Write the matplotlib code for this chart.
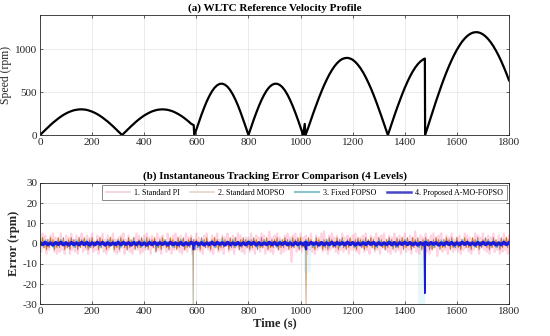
import numpy as np
import matplotlib
matplotlib.use("Agg")
import matplotlib.pyplot as plt
from matplotlib.lines import Line2D

# ---------------- data ----------------
# (a) reference speed profile (rpm)
speed_t = [0, 10, 20, 30, 40, 50, 60, 70, 80, 90, 100, 110, 120, 130, 140, 150, 160, 170, 180, 190,
           200, 210, 220, 230, 240, 250, 260, 270, 280, 290, 300, 310, 315,
           320, 330, 340, 350, 360, 370, 380, 390, 400, 410, 420, 430, 440, 450, 460, 470, 480, 490,
           500, 510, 520, 530, 540, 550, 560, 570, 580, 590, 592,
           600, 610, 620, 630, 640, 650, 660, 670, 680, 690, 700, 710, 720, 730, 740, 750, 760, 770,
           780, 790, 800,
           810, 820, 830, 840, 850, 860, 870, 880, 890, 900, 910, 920, 930, 940, 950, 960, 970, 980,
           990, 1000, 1010, 1016, 1019,
           1030, 1040, 1050, 1060, 1070, 1080, 1090, 1100, 1110, 1120, 1130, 1140, 1150, 1160, 1170,
           1180, 1190, 1200, 1210, 1220, 1230, 1240, 1250, 1260, 1270, 1280, 1290, 1300, 1310, 1320,
           1330, 1335,
           1340, 1350, 1360, 1370, 1380, 1390, 1400, 1410, 1420, 1430, 1440, 1450, 1460, 1470, 1477, 1478,
           1480, 1490, 1500, 1510, 1520, 1530, 1540, 1550, 1560, 1570, 1580, 1590, 1600, 1610, 1620,
           1630, 1640, 1650, 1660, 1670, 1680, 1690, 1700, 1710, 1720, 1730, 1740, 1750, 1760, 1770,
           1780, 1790, 1800]
speed_v = [0, 30, 59, 88, 117, 144, 169, 193, 215, 235, 252, 267, 279, 289, 295, 299, 300, 298, 293, 284,
           273, 260, 244, 225, 204, 181, 157, 130, 103, 74, 45, 15, 0,
           15, 45, 75, 104, 132, 159, 184, 207, 228, 246, 262, 276, 286, 294, 298, 300, 298, 294,
           286, 276, 262, 246, 228, 207, 184, 159, 132, 115, 0,
           64, 153, 239, 319, 393, 456, 510, 552, 581, 597, 599, 587, 562, 524, 474, 413, 343, 264,
           179, 91, 0,
           89, 177, 260, 338, 408, 469, 520, 559, 585, 598, 598, 585, 559, 520, 469, 408, 338, 260,
           177, 89, 0, 130, 0,
           90, 178, 266, 349, 430, 507, 579, 644, 704, 756, 801, 838, 867, 887, 897,
           900, 893, 878, 853, 820, 779, 731, 675, 612, 544, 470, 391, 308, 222, 134,
           45, 0,
           46, 136, 226, 313, 396, 476, 551, 620, 683, 739, 787, 827, 858, 881, 892, 0,
           19, 115, 210, 304, 396, 486, 572, 655, 733, 807, 875, 938, 995, 1045, 1090,
           1126, 1156, 1178, 1193, 1199, 1199, 1190, 1174, 1150, 1119, 1081, 1036, 984, 926, 862,
           792, 718, 638]

# (b) tracking errors (rpm); PI / MOPSO sampled every 5 s, FOPSO / proposed every 10 s
err_pi = [3, -4, 5, -2, 4, -5, 2, -3, 4, -1, 5, -4, 3, -5, 2, -4, 5, -3, 1, -5,
          4, -2, 3, -5, 5, -3, 2, -4, 4, -5, 3, -1, 5, -4, 2, -3, 4, -5, 3, -2,
          5, -4, 1, -3, 4, -5, 3, -2, 5, -4, 2, -5, 4, -3, 3, -1, 5, -4, 2, -5,
          3, -4, 4, -2, 5, -5, 2, -3, 4, -4, 1, -5, 3, -2, 5, -3, 4, -5, 2, -4,
          4, -3, 5, -1, 3, -5, 4, -2, 2, -4, 5, -3, 3, -5, 4, -2, 1, -4, 5, -3,
          2, -5, 4, -3, 5, -2, 3, -4, 4, -5, 2, -3, 5, -4, 3, -1, 4, -5, 2, -3,
          5, -3, 3, -4, 2, -5, 4, -2, 5, -3, 1, -4, 4, -5, 3, -2, 5, -4, 2, -3,
          4, -5, 3, -1, 5, -4, 2, -3, 4, -5, 3, -2, 5, -3, 4, -4, 2, -5, 3, -2,
          3, -4, 5, -3, 2, -5, 4, -1, 3, -4, 5, -2, 4, -5, 2, -3, 6, -4, 3, -5,
          4, -2, 5, -3, 3, -5, 2, -4, 4, -3, 5, -1, 3, -9, 4, -2, 5, -4, 2, -3,
          5, -4, 3, -2, 4, -5, 2, -3, 5, -4, 1, -5, 4, -3, 3, -2, 5, -4, 6, -3,
          2, -5, 4, -3, 5, -2, 3, -4, 4, -5, 2, -3, 5, -4, 3, -1, 4, -5, 2, -3,
          4, -3, 5, -4, 2, -5, 3, -2, 4, -4, 5, -3, 1, -5, 4, -2, 3, -4, 5, -3,
          3, -5, 4, -2, 5, -3, 2, -4, 4, -5, 3, -1, 5, -4, 2, -3, 4, -5, 3, -2,
          5, -4, 2, -3, 4, -5, 3, -2, 6, -4, 1, -5, 4, -3, 3, -2, 5, -4, 2, -5,
          4, -3, 5, -2, 3, -6, 4, -1, 5, -4, 2, -3, 4, -5, 3, -2, 5, -4, 2, -3,
          3, -4, 4, -5, 2, -3, 5, -2, 4, -4, 3, -5, 2, -3, 5, -1, 4, -5, 3, -2,
          5, -3, 2, -4, 4, -5, 3, -2, 5, -4, 1, -3, 4, -5, 2, -4, 5, -3, 3, -5,
          4]
err_mopso = [2, -1, 3, -2, 1, -3, 2, -2, 3, -1, 2, -3, 1, -2, 3, -2, 2, -1, 3, -3,
             1, -2, 2, -3, 3, -1, 2, -2, 1, -3, 3, -2, 2, -1, 3, -2, 1, -3, 2, -2,
             3, -2, 1, -1, 2, -3, 3, -2, 2, -1, 1, -3, 2, -2, 3, -1, 2, -3, 1, -2,
             2, -3, 3, -1, 2, -2, 1, -3, 3, -2, 2, -1, 3, -3, 1, -2, 2, -2, 3, -1,
             1, -2, 3, -3, 2, -1, 2, -2, 3, -4, 1, -2, 2, -3, 3, -1, 2, -2, 1, -3,
             3, -1, 2, -2, 1, -3, 3, -2, 2, -1, 3, -3, 1, -2, 2, -2, 3, -1, 2, -3,
             2, -2, 1, -3, 3, -1, 2, -2, 3, -2, 1, -3, 2, -1, 3, -2, 2, -3, 1, -2,
             3, -2, 2, -1, 1, -3, 3, -2, 2, -2, 3, -1, 1, -3, 2, -2, 3, -1, 2, -2,
             1, -3, 2, -2, 3, -1, 2, -3, 1, -2, 3, -2, 2, -1, 3, -3, 1, -2, 2, -2,
             2, -1, 3, -3, 1, -2, 2, -2, 3, -1, 2, -3, 1, -2, 3, -2, 2, -1, 3, -3,
             3, -2, 1, -2, 2, -3, 3, -1, 2, -2, 1, -3, 3, -2, 2, -1, 1, -3, 2, -2,
             2, -3, 3, -1, 2, -2, 1, -2, 3, -3, 2, -1, 3, -2, 1, -3, 2, -2, 3, -1,
             1, -2, 2, -3, 3, -1, 2, -2, 1, -3, 3, -2, 2, -1, 3, -2, 2, -3, 1, -2,
             3, -1, 2, -2, 1, -3, 2, -2, 3, -1, 2, -3, 1, -2, 3, -2, 2, -1, 3, -3,
             2, -2, 3, -1, 1, -3, 3, -2, 2, -1, 3, -2, 1, -3, 2, -2, 3, -1, 2, -3,
             1, -3, 2, -2, 3, -1, 2, -3, 1, -2, 2, -2, 3, -1, 2, -3, 3, -2, 1, -2,
             3, -2, 1, -3, 2, -1, 3, -2, 2, -2, 1, -3, 3, -1, 2, -2, 3, -3, 1, -2,
             2, -1, 3, -2, 2, -3, 1, -2, 3, -1, 2, -2, 1, -3, 3, -2, 2, -1, 3, -2,
             2]
err_fopso = [1, -1, 2, -1, 1, -2, 1, -1, 2, -1, 1, -1, 1, -2, 2, -1, 1, -1, 2, -2,
             1, -1, 1, -2, 1, -1, 2, -1, 1, -1, 2, -2, 1, -1, 1, -1, 2, -1, 1, -2,
             2, -1, 1, -1, 1, -2, 1, -1, 2, -1, 1, -2, 1, -1, 2, -1, 1, -1, 1, -2,
             1, -2, 2, -1, 1, -1, 1, -2, 1, -1, 2, -1, 1, -1, 2, -2, 1, -1, 1, -1,
             2, -1, 1, -2, 1, -1, 2, -1, 1, -1, 1, -2, 2, -1, 1, -1, 2, -1, 1, -2,
             1, -1, 2, -1, 1, -2, 1, -1, 1, -1, 2, -2, 1, -1, 1, -2, 2, -1, 1, -1,
             1, -2, 1, -1, 2, -1, 1, -1, 1, -2, 2, -1, 1, -1, 2, -1, 1, -2, 1, -1,
             2, -1, 1, -1, 1, -2, 1, -1, 2, -1, 1, -2, 1, -1, 2, -1, 1, -1, 2, -2,
             1, -1, 2, -1, 1, -1, 1, -2, 2, -1, 1, -1, 2, -1, 1, -2, 1, -1, 1, -1,
             1]
err_prop = [0.5, -0.4, 0.6, -0.5, 0.3, -0.6, 0.5, -0.3, 0.6, -0.5, 0.4, -0.6, 0.5, -0.4, 0.3, -0.5, 0.6, -0.4, 0.5, -0.6,
            0.4, -0.5, 0.6, -0.3, 0.5, -0.6, 0.4, -0.5, 0.3, -0.4, 0.6, -0.5, 0.5, -0.3, 0.4, -0.6, 0.5, -0.4, 0.6, -0.5,
            0.3, -0.6, 0.5, -0.4, 0.6, -0.5, 0.4, -0.3, 0.5, -0.6, 0.6, -0.4, 0.3, -0.5, 0.5, -0.6, 0.4, -0.4, 0.6, -0.3,
            0.5, -0.5, 0.4, -0.6, 0.3, -0.4, 0.6, -0.5, 0.5, -0.3, 0.4, -0.6, 0.6, -0.5, 0.3, -0.4, 0.5, -0.6, 0.4, -0.5,
            0.6, -0.3, 0.5, -0.6, 0.4, -0.5, 0.3, -0.4, 0.6, -0.5, 0.5, -0.6, 0.4, -0.3, 0.6, -0.5, 0.3, -0.6, 0.5, -0.4,
            0.4, -0.5, 0.6, -0.4, 0.5, -0.3, 0.4, -0.6, 0.5, -0.5, 0.3, -0.4, 0.6, -0.6, 0.5, -0.3, 0.4, -0.5, 0.6, -0.4,
            0.5, -0.6, 0.3, -0.5, 0.4, -0.4, 0.6, -0.3, 0.5, -0.6, 0.4, -0.5, 0.3, -0.4, 0.6, -0.5, 0.5, -0.6, 0.4, -0.3,
            0.6, -0.4, 0.5, -0.5, 0.3, -0.6, 0.4, -0.4, 0.6, -0.5, 0.5, -0.3, 0.4, -0.6, 0.3, -0.5, 0.6, -0.4, 0.5, -0.6,
            0.4, -0.5, 0.6, -0.3, 0.5, -0.4, 0.3, -0.6, 0.5, -0.5, 0.6, -0.4, 0.4, -0.3, 0.5, -0.6, 0.3, -0.5, 0.6, -0.4,
            0.5]

# transient events in the error traces (time s, error rpm)
mopso_ev_t = [[586, 588, 590], [1018, 1021, 1024]]
mopso_ev_v = [[-1, -32, 1], [-1, -32, 1]]
fopso_ev_t = [[585, 587, 589],
              [1015, 1016, 1017, 1018, 1019, 1020, 1021, 1022, 1023, 1024, 1025, 1026, 1027, 1028,
               1029, 1030, 1031, 1032, 1033, 1034, 1035, 1036, 1037, 1038],
              [1453, 1454, 1455, 1456, 1457, 1458, 1459, 1460, 1461, 1462, 1463, 1464, 1465, 1466,
               1467, 1468, 1469, 1470, 1471, 1472, 1473, 1474, 1475, 1476, 1477]]
fopso_ev_v = [[-1, -32, 1],
              [0, -14, 0, -14, 0, -14, 0, -14, 0, -14, 0, -14, 0, -14, 0, -14, 0, -14, 0, -14,
               0, -14, 0, -14],
              [0, -32, 0, -32, 0, -32, 0, -32, 0, -32, 0, -32, 0, -32, 0, -32, 0, -32, 0, -32,
               0, -32, 0, -32, 0]]
prop_ev_t = [[586, 589, 592], [1017, 1020, 1023], [1475, 1477, 1479]]
prop_ev_v = [[0, -3, 0], [0, -3, 0], [0, -24.5, 0]]

legend_labels = ["1. Standard PI", "2. Standard MOPSO", "3. Fixed FOPSO", "4. Proposed A-MO-FOPSO"]
x_ticks = [0, 200, 400, 600, 800, 1000, 1200, 1400, 1600, 1800]

# ---------------- style ----------------
plt.rcParams['font.family'] = ['Liberation Serif', 'DejaVu Serif']
plt.rcParams['axes.unicode_minus'] = False
AX_COL = '#262626'
GRID_COL = '#e3e3e3'

fig = plt.figure(figsize=(5.5, 3.36), dpi=100)
ax1 = fig.add_axes([0.0727, 0.598, 0.8528, 0.3574])
ax2 = fig.add_axes([0.0727, 0.0943, 0.8528, 0.3611])


def style(ax):
    for s in ax.spines.values():
        s.set_color(AX_COL)
        s.set_linewidth(0.6)
    ax.tick_params(direction='in', length=2.5, width=0.5, colors=AX_COL, labelsize=8,
                   top=True, right=True, pad=2)
    ax.grid(True, color=GRID_COL, linewidth=0.5)
    ax.set_axisbelow(True)


# (a)
ax1.plot(speed_t, speed_v, color='black', lw=1.6)
ax1.set_xlim(0, 1800)
ax1.set_ylim(0, 1400)
ax1.set_xticks(x_ticks)
ax1.set_yticks([0, 500, 1000])
ax1.set_ylabel('Speed (rpm)', fontsize=8.5, color=AX_COL, labelpad=2)
ax1.set_title('(a) WLTC Reference Velocity Profile', fontsize=8, fontweight='bold', pad=3)
style(ax1)

# (b)
t5 = np.arange(0, 1801, 5)
t10 = np.arange(0, 1801, 10)
c_pi = (1.0, 0.30, 0.55)
c_mo = (0.66, 0.38, 0.10)
c_fo = (0.30, 0.75, 0.85)
c_pr = (0.10, 0.10, 0.85)
ax2.plot(t5, err_pi, color=c_pi, lw=1.6, alpha=0.25)
ax2.plot(t5, err_mopso, color=c_mo, lw=0.7, alpha=0.8)
for tt, vv in zip(mopso_ev_t, mopso_ev_v):
    ax2.plot(tt, vv, color=c_mo, lw=0.6, alpha=0.55)
ax2.plot(t10, err_fopso, color=c_fo, lw=0.8, alpha=0.7)
for tt, vv in zip(fopso_ev_t, fopso_ev_v):
    ax2.plot(tt, vv, color=c_fo, lw=0.6, alpha=0.12)
ax2.plot(t10, err_prop, color=c_pr, lw=2.5)
for tt, vv in zip(prop_ev_t, prop_ev_v):
    ax2.plot(tt, vv, color=c_pr, lw=1.2)

ax2.set_xlim(0, 1800)
ax2.set_ylim(-30, 30)
ax2.set_xticks(x_ticks)
ax2.set_yticks([-30, -20, -10, 0, 10, 20, 30])
ax2.set_ylabel('Error (rpm)', fontsize=9, fontweight='bold', color=AX_COL, labelpad=2)
ax2.set_xlabel('Time (s)', fontsize=9, fontweight='bold', color=AX_COL, labelpad=1)
ax2.set_title('(b) Instantaneous Tracking Error Comparison (4 Levels)', fontsize=7.8,
              fontweight='bold', pad=3)
style(ax2)

handles = [Line2D([], [], color='#f2d2d6', lw=1.2),
           Line2D([], [], color='#e8d3c6', lw=1.2),
           Line2D([], [], color='#8cc4ce', lw=1.5),
           Line2D([], [], color='#4646c8', lw=1.8)]
leg = ax2.legend(handles, legend_labels, loc='upper right', ncol=4, fontsize=5.8,
                 frameon=True, fancybox=False, borderpad=0.4, handlelength=3.0,
                 handletextpad=0.5, columnspacing=1.3, borderaxespad=0.3)
leg.get_frame().set_edgecolor('#555555')
leg.get_frame().set_linewidth(0.6)

fig.savefig('out.png', dpi=100)
